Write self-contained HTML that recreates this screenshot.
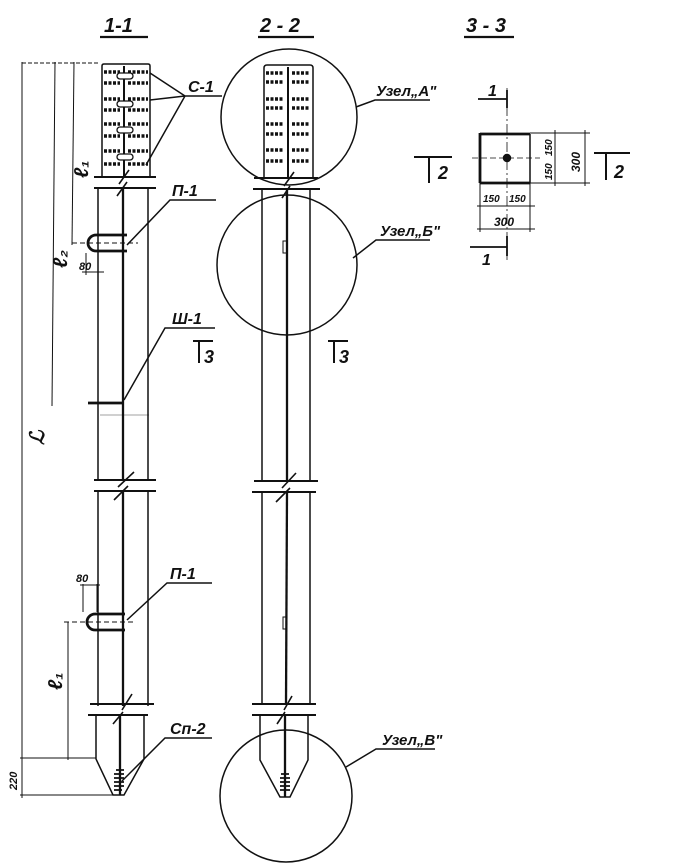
<!DOCTYPE html>
<html><head><meta charset="utf-8"><style>
html,body{margin:0;padding:0;background:#fff}
svg{display:block}
text{font-family:"Liberation Sans",sans-serif;font-style:italic;font-weight:bold;fill:#111}
</style></head><body>
<svg width="680" height="865" viewBox="0 0 680 865" xmlns="http://www.w3.org/2000/svg">
<g stroke="#111" fill="none" stroke-width="1.5">
<text x="104" y="32" font-size="20" stroke="none">1-1</text>
<line x1="100" y1="37" x2="148" y2="37" stroke-width="2.2"/>
<text x="260" y="32" font-size="20" stroke="none">2 - 2</text>
<line x1="258" y1="37" x2="314" y2="37" stroke-width="2.2"/>
<text x="466" y="32" font-size="20" stroke="none">3 - 3</text>
<line x1="464" y1="37" x2="514" y2="37" stroke-width="2.2"/>

<!-- ===== PILE 1-1 ===== -->
<path d="M102 177 V66 Q102 64 104 64 H148 Q150 64 150 66 V177"/>
<line x1="124" y1="66" x2="124" y2="176" stroke-width="2"/>
<g stroke-width="3.5" stroke-dasharray="3 1.5">
<line x1="104" y1="72" x2="120" y2="72"/><line x1="128" y1="72" x2="148" y2="72"/>
<line x1="104" y1="83" x2="120" y2="83"/><line x1="128" y1="83" x2="148" y2="83"/>
<line x1="104" y1="99" x2="120" y2="99"/><line x1="128" y1="99" x2="148" y2="99"/>
<line x1="104" y1="110" x2="120" y2="110"/><line x1="128" y1="110" x2="148" y2="110"/>
<line x1="104" y1="124" x2="120" y2="124"/><line x1="128" y1="124" x2="148" y2="124"/>
<line x1="104" y1="136" x2="120" y2="136"/><line x1="128" y1="136" x2="148" y2="136"/>
<line x1="104" y1="151" x2="120" y2="151"/><line x1="128" y1="151" x2="148" y2="151"/>
<line x1="104" y1="164" x2="120" y2="164"/><line x1="128" y1="164" x2="148" y2="164"/>
</g>
<g stroke-width="1.3" fill="#fff">
<rect x="117" y="73" width="16" height="6" rx="3"/><rect x="117" y="101" width="16" height="6" rx="3"/>
<rect x="117" y="127" width="16" height="6" rx="3"/><rect x="117" y="154" width="16" height="6" rx="3"/>
</g>
<line x1="94" y1="177" x2="156" y2="177" stroke-width="2"/>
<line x1="94" y1="188" x2="156" y2="188" stroke-width="2"/>
<path d="M119 184 L129 170 M117 196 L127 182" stroke-width="1.6"/>
<line x1="98" y1="188" x2="98" y2="480"/>
<line x1="148" y1="188" x2="148" y2="480"/>
<line x1="123" y1="188" x2="123" y2="480" stroke-width="2.3"/>
<path d="M127 235 H96 A8 8 0 0 0 96 251 H127" stroke-width="2.8"/>
<line x1="72" y1="243" x2="138" y2="243" stroke-dasharray="5 3" stroke-width="1"/>
<line x1="86" y1="253" x2="86" y2="275" stroke-width="1"/>
<line x1="98" y1="255" x2="98" y2="275" stroke-width="1"/>
<line x1="82" y1="272" x2="104" y2="272" stroke-width="1"/>
<text x="79" y="270" font-size="11" stroke="none">80</text>
<line x1="88" y1="403" x2="123" y2="403" stroke-width="2.8"/>
<line x1="100" y1="415" x2="149" y2="415" stroke-width="0.4"/>
<line x1="94" y1="480" x2="156" y2="480" stroke-width="2"/>
<line x1="94" y1="491" x2="156" y2="491" stroke-width="2"/>
<path d="M118 487 L134 472 M114 500 L128 486" stroke-width="1.6"/>
<line x1="98" y1="491" x2="98" y2="706"/>
<line x1="148" y1="491" x2="148" y2="706"/>
<line x1="123" y1="491" x2="123" y2="706" stroke-width="2.3"/>
<path d="M125 614 H95 A8 8 0 0 0 95 630 H125" stroke-width="2.8"/>
<line x1="64" y1="622" x2="136" y2="622" stroke-dasharray="5 3" stroke-width="1"/>
<line x1="83" y1="584" x2="83" y2="612" stroke-width="1"/>
<line x1="97" y1="584" x2="97" y2="612" stroke-width="1"/>
<line x1="80" y1="585" x2="100" y2="585" stroke-width="1"/>
<text x="76" y="582" font-size="11" stroke="none">80</text>
<line x1="90" y1="704" x2="154" y2="704" stroke-width="2"/>
<line x1="88" y1="715" x2="148" y2="715" stroke-width="2"/>
<path d="M122 710 L132 694 M113 724 L123 712" stroke-width="1.6"/>
<path d="M96 715 V759 L113 795 H124 L144 759 V715"/>
<line x1="120" y1="715" x2="120" y2="795" stroke-width="2.3"/>
<path d="M116 770 h8 M114 774 h10 M114 778 h10 M114 782 h10 M114 786 h10 M114 790 h8" stroke-width="1.8"/>

<line x1="22" y1="62" x2="22" y2="798" stroke-width="1"/>
<line x1="55" y1="62" x2="52" y2="406" stroke-width="1"/>
<line x1="74" y1="62" x2="72" y2="245" stroke-width="1"/>
<line x1="22" y1="63" x2="100" y2="63" stroke-width="1" stroke-dasharray="4 2"/>
<line x1="68" y1="622" x2="68" y2="760" stroke-width="1"/>
<line x1="20" y1="758" x2="96" y2="758" stroke-width="1"/>
<line x1="20" y1="795" x2="114" y2="795" stroke-width="1"/>
<text x="0" y="0" font-size="20" stroke="none" transform="translate(44,445) rotate(-90)">ℒ</text>
<text x="0" y="0" font-size="20" stroke="none" transform="translate(67,268) rotate(-90)">ℓ₂</text>
<text x="0" y="0" font-size="20" stroke="none" transform="translate(88,178) rotate(-90)">ℓ₁</text>
<text x="0" y="0" font-size="20" stroke="none" transform="translate(62,690) rotate(-90)">ℓ₁</text>
<text x="0" y="0" font-size="11" stroke="none" transform="translate(17,790) rotate(-90)">220</text>

<path d="M150 73 L185 96 M150 100 L185 96 M146 165 L185 96 M185 96 H222"/>
<text x="188" y="92" font-size="16" stroke="none">С-1</text>
<path d="M127 245 L170 200 H216"/>
<text x="172" y="196" font-size="16" stroke="none">П-1</text>
<path d="M124 400 L165 328 H215"/>
<text x="172" y="324" font-size="16" stroke="none">Ш-1</text>
<path d="M127 620 L167 583 H212"/>
<text x="170" y="579" font-size="16" stroke="none">П-1</text>
<path d="M122 781 L165 738 H212"/>
<text x="170" y="734" font-size="16" stroke="none">Сп-2</text>
<path d="M193 341 H213 M199 341 V363" stroke-width="2"/>
<text x="204" y="363" font-size="18" stroke="none">3</text>
<path d="M328 341 H348 M334 341 V363" stroke-width="2"/>
<text x="339" y="363" font-size="18" stroke="none">3</text>

<!-- ===== PILE 2-2 ===== -->
<circle cx="289" cy="117" r="68"/>
<path d="M264 178 V68 Q264 65 267 65 H310 Q313 65 313 68 V178"/>
<line x1="288" y1="67" x2="288" y2="178" stroke-width="2"/>
<g stroke-width="3.5" stroke-dasharray="3 1.5">
<line x1="266" y1="73" x2="284" y2="73"/><line x1="292" y1="73" x2="310" y2="73"/>
<line x1="266" y1="82" x2="284" y2="82"/><line x1="292" y1="82" x2="310" y2="82"/>
<line x1="266" y1="99" x2="284" y2="99"/><line x1="292" y1="99" x2="310" y2="99"/>
<line x1="266" y1="108" x2="284" y2="108"/><line x1="292" y1="108" x2="310" y2="108"/>
<line x1="266" y1="124" x2="284" y2="124"/><line x1="292" y1="124" x2="310" y2="124"/>
<line x1="266" y1="134" x2="284" y2="134"/><line x1="292" y1="134" x2="310" y2="134"/>
<line x1="266" y1="150" x2="284" y2="150"/><line x1="292" y1="150" x2="310" y2="150"/>
<line x1="266" y1="161" x2="284" y2="161"/><line x1="292" y1="161" x2="310" y2="161"/>
</g>
<line x1="254" y1="178" x2="318" y2="178" stroke-width="2"/>
<line x1="253" y1="189" x2="320" y2="189" stroke-width="2"/>
<path d="M284 186 L294 172 M282 198 L290 186" stroke-width="1.6"/>
<circle cx="287" cy="265" r="70"/>
<line x1="262" y1="189" x2="262" y2="481"/>
<line x1="310" y1="189" x2="310" y2="481"/>
<line x1="287" y1="189" x2="287" y2="481" stroke-width="2.3"/>
<rect x="283" y="241" width="4" height="12" stroke-width="1"/>
<line x1="254" y1="481" x2="318" y2="481" stroke-width="2"/>
<line x1="252" y1="492" x2="316" y2="492" stroke-width="2"/>
<path d="M282 488 L296 473 M276 502 L290 488" stroke-width="1.6"/>
<line x1="262" y1="492" x2="262" y2="704"/>
<line x1="310" y1="492" x2="310" y2="704"/>
<line x1="287" y1="492" x2="286" y2="704" stroke-width="2.3"/>
<rect x="283" y="617" width="4" height="12" stroke-width="1"/>
<line x1="252" y1="704" x2="316" y2="704" stroke-width="2"/>
<line x1="252" y1="715" x2="316" y2="715" stroke-width="2"/>
<path d="M284 710 L292 696 M277 724 L285 712" stroke-width="1.6"/>
<circle cx="286" cy="796" r="66"/>
<path d="M260 715 V760 L280 797 H290 L308 760 V715"/>
<line x1="285" y1="715" x2="285" y2="797" stroke-width="2.3"/>
<path d="M281 774 h8 M280 778 h10 M280 782 h10 M280 786 h10 M280 790 h10" stroke-width="1.8"/>

<path d="M356 107 L375 100 H430"/>
<text x="376" y="96" font-size="15" stroke="none">Узел„А"</text>
<path d="M353 258 L376 240 H430"/>
<text x="380" y="236" font-size="15" stroke="none">Узел„Б"</text>
<path d="M346 767 L376 749 H435"/>
<text x="382" y="745" font-size="15" stroke="none">Узел„В"</text>

<!-- ===== SECTION 3-3 ===== -->
<line x1="480" y1="133" x2="480" y2="183" stroke-width="2.8"/>
<line x1="480" y1="134" x2="530" y2="134" stroke-width="2.8"/>
<line x1="480" y1="183" x2="530" y2="183" stroke-width="2.8"/>
<line x1="530" y1="134" x2="530" y2="183" stroke-width="1.5"/>
<circle cx="507" cy="158" r="3.5" fill="#111"/>
<line x1="472" y1="158" x2="540" y2="158" stroke-dasharray="6 3" stroke-width="0.8"/>
<line x1="507" y1="88" x2="507" y2="262" stroke-dasharray="10 3 2 3" stroke-width="0.8"/>
<path d="M478 99 H507 M507 90 V108" stroke-width="1.8"/>
<text x="488" y="96" font-size="16" stroke="none">1</text>
<path d="M470 247 H507 M507 236 V256" stroke-width="1.8"/>
<text x="482" y="265" font-size="16" stroke="none">1</text>
<path d="M414 157 H452 M429 157 V183" stroke-width="2"/>
<text x="438" y="179" font-size="18" stroke="none">2</text>
<path d="M594 153 H630 M606 153 V180" stroke-width="2"/>
<text x="614" y="178" font-size="18" stroke="none">2</text>
<g stroke-width="1">
<line x1="530" y1="133" x2="590" y2="133"/>
<line x1="530" y1="183" x2="590" y2="183"/>
<line x1="555" y1="130" x2="555" y2="186"/>
<line x1="585" y1="130" x2="585" y2="186"/>
<line x1="480" y1="183" x2="480" y2="232"/>
<line x1="530" y1="183" x2="530" y2="232"/>
<line x1="477" y1="206" x2="535" y2="206"/>
<line x1="477" y1="229" x2="535" y2="229"/>
</g>
<text x="0" y="0" font-size="10" stroke="none" transform="translate(552,156) rotate(-90)">150</text>
<text x="0" y="0" font-size="10" stroke="none" transform="translate(552,180) rotate(-90)">150</text>
<text x="0" y="0" font-size="12" stroke="none" transform="translate(580,172) rotate(-90)">300</text>
<text x="483" y="202" font-size="10" stroke="none">150</text>
<text x="509" y="202" font-size="10" stroke="none">150</text>
<text x="494" y="226" font-size="12" stroke="none">300</text>
</g>
</svg>
</body></html>
